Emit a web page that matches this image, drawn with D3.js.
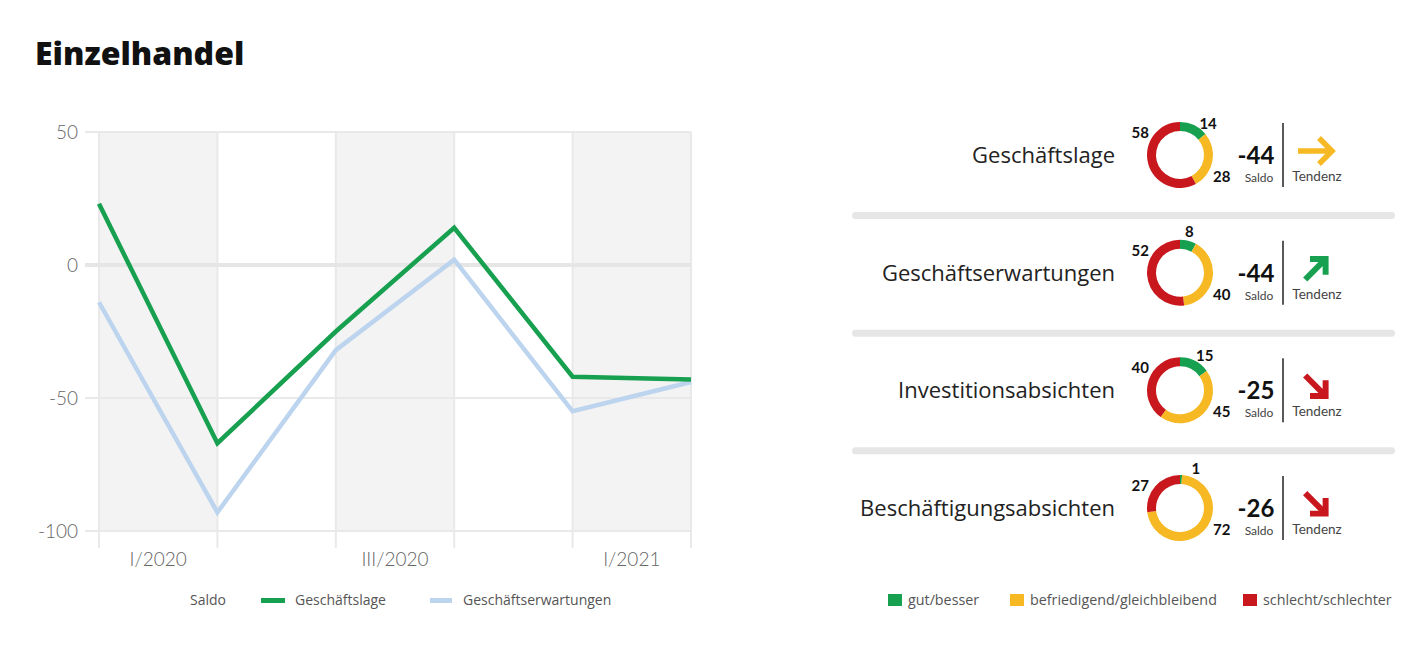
<!DOCTYPE html>
<html><head><meta charset="utf-8">
<script src="https://cdn.jsdelivr.net/npm/d3@7"></script>
<style>
html,body{margin:0;padding:0;background:#fff;}
svg{display:block;font-family:Lato,"Open Sans",sans-serif;}
</style></head>
<body>
<svg id="c" width="1424" height="662"></svg>
<script>
// ---------- data ----------
const bandLabels = ["I/2020","II/2020","III/2020","IV/2020","I/2021"];
const shownLabels = ["I/2020","III/2020","I/2021"];
const yTicks = [50, 0, -50, -100];
const geschaeftslage = [23, -67, -25, 14, -42, -43];
const geschaeftserwartungen = [-14, -93, -32, 2, -55, -44];
const rowNames = ["Geschäftslage","Geschäftserwartungen","Investitionsabsichten","Beschäftigungsabsichten"];
const gut = [14, 8, 15, 1];
const befriedigend = [28, 40, 45, 72];
const schlecht = [58, 52, 40, 27];
const saldo = [-44, -44, -25, -26];
const tendenz = ["gleich", "hoch", "runter", "runter"];
const legendRight = ["gut/besser","befriedigend/gleichbleibend","schlecht/schlechter"];

// ---------- styles ----------
const C = {green:"#17a04f", yellow:"#f6b823", red:"#c8181e", blue:"#bcd4ee", grey:"#f3f3f3", grid:"#e9e9e9", text:"#555"};
const OS = "'Open Sans', sans-serif";
const svg = d3.select("#c");

// title
svg.append("text").attr("x",35).attr("y",65).attr("font-size",32).attr("font-weight",800)
  .attr("font-family",OS).attr("fill","#111").text("Einzelhandel");

// ---------- line chart ----------
const x = d3.scaleLinear().domain([0, geschaeftslage.length-1]).range([99, 691]);
const y = d3.scaleLinear().domain([-100, 50]).range([531, 132]);
const g = svg.append("g");

bandLabels.forEach((b,i)=>{
  if(i%2===0) g.append("rect").attr("x",x(i)).attr("y",y(50)).attr("width",x(i+1)-x(i))
    .attr("height",y(-100)-y(50)).attr("fill",C.grey);
});
d3.range(geschaeftslage.length).forEach(i=>{
  g.append("line").attr("x1",x(i)).attr("x2",x(i)).attr("y1",y(50)).attr("y2",548)
   .attr("stroke",C.grid).attr("stroke-width",2);
});
yTicks.forEach(t=>{
  g.append("line").attr("x1",85).attr("x2",x(5)).attr("y1",y(t)).attr("y2",y(t))
   .attr("stroke", t===0? "#e6e6e6":C.grid).attr("stroke-width", t===0?4:2);
  g.append("text").attr("x",78).attr("y",y(t)+7).attr("text-anchor","end")
   .attr("font-size",19).attr("font-weight",300).attr("fill","#666").text(t);
});
bandLabels.forEach((b,i)=>{
  if(shownLabels.includes(b)) g.append("text").attr("x",(x(i)+x(i+1))/2).attr("y",566)
    .attr("text-anchor","middle").attr("font-size",19).attr("font-weight",300).attr("fill","#666").text(b);
});
const line = d3.line().x((d,i)=>x(i)).y(d=>y(d));
g.append("path").datum(geschaeftserwartungen).attr("d",line).attr("fill","none")
  .attr("stroke",C.blue).attr("stroke-width",4.5);
g.append("path").datum(geschaeftslage).attr("d",line).attr("fill","none")
  .attr("stroke",C.green).attr("stroke-width",4.5);

// legend left
const ll = svg.append("g").attr("font-size",14).attr("fill",C.text).attr("font-family",OS);
ll.append("text").attr("x",190).attr("y",605).text("Saldo");
ll.append("rect").attr("x",261).attr("y",598).attr("width",24).attr("height",5).attr("fill",C.green);
ll.append("text").attr("x",295).attr("y",605).text("Geschäftslage");
ll.append("rect").attr("x",430).attr("y",598).attr("width",22).attr("height",5).attr("fill",C.blue);
ll.append("text").attr("x",463).attr("y",605).text("Geschäftserwartungen");

// ---------- right panel ----------
const rowY = d3.scaleLinear().domain([0,3]).range([155, 508]);
const cx = 1180, rOut = 33, rIn = 24;
const pie = d3.pie().sort(null).value(d=>d);
const arc = d3.arc().innerRadius(rIn).outerRadius(rOut);
const greenLabelAngle = [42, 13, 36, 22];

function arrow(gg, kind){
  const col = kind==="gleich"?C.yellow: kind==="hoch"?C.green:C.red;
  const rot = kind==="gleich"?0: kind==="hoch"?-45:45;
  const sc = kind==="gleich"?1:0.85;
  const sw = kind==="gleich"?5.5:7;
  const a = gg.append("g").attr("transform",`rotate(${rot}) scale(${sc})`);
  a.append("path").attr("d","M-18,0 L15,0").attr("stroke",col).attr("stroke-width",sw).attr("fill","none");
  a.append("path").attr("d","M3,-13 L16,0 L3,13").attr("stroke",col).attr("stroke-width",sw)
   .attr("fill","none").attr("stroke-linejoin","miter");
}

rowNames.forEach((name,i)=>{
  const cy = rowY(i);
  const r = svg.append("g");
  r.append("text").attr("x",1115).attr("y",cy+8).attr("text-anchor","end").attr("font-size",22)
   .attr("font-family",OS).attr("fill","#222").text(name);
  const dg = r.append("g").attr("transform",`translate(${cx},${cy})`);
  const vals = [gut[i], befriedigend[i], schlecht[i]];
  dg.selectAll("path").data(pie(vals)).join("path").attr("d",arc)
    .attr("fill",(d,j)=>[C.green,C.yellow,C.red][j]);
  const ang = greenLabelAngle[i]*Math.PI/180;
  dg.append("text").attr("x",42*Math.sin(ang)).attr("y",-42*Math.cos(ang)+5).attr("text-anchor","middle")
    .attr("font-size",15).attr("font-weight",700).attr("fill","#111").text(gut[i]);
  dg.append("text").attr("x",-31).attr("y",-17).attr("text-anchor","end")
    .attr("font-size",15).attr("font-weight",700).attr("fill","#111").text(schlecht[i]);
  dg.append("text").attr("x",33).attr("y",27).attr("text-anchor","start")
    .attr("font-size",15).attr("font-weight",700).attr("fill","#111").text(befriedigend[i]);
  r.append("text").attr("x",1256).attr("y",cy+9).attr("text-anchor","middle").attr("font-size",24)
   .attr("font-weight",700).attr("fill","#111").text(saldo[i]);
  r.append("text").attr("x",1259).attr("y",cy+27).attr("text-anchor","middle").attr("font-size",12)
   .attr("fill","#444").text("Saldo");
  r.append("line").attr("x1",1283).attr("x2",1283).attr("y1",cy-32).attr("y2",cy+32)
   .attr("stroke","#222").attr("stroke-width",1.5);
  r.append("text").attr("x",1317).attr("y",cy+26).attr("text-anchor","middle").attr("font-size",13.5)
   .attr("fill","#444").text("Tendenz");
  arrow(r.append("g").attr("transform",`translate(1316,${cy-4})`), tendenz[i]);
  if(i<rowNames.length-1){
    r.append("rect").attr("x",852).attr("y",cy+57).attr("width",543).attr("height",7).attr("rx",3.5)
     .attr("fill","#e6e6e6");
  }
});

// legend right
const lr = svg.append("g").attr("font-size",14.3).attr("fill",C.text).attr("font-family",OS);
const lx = [888, 1010, 1243];
legendRight.forEach((t,j)=>{
  lr.append("rect").attr("x",lx[j]).attr("y",594).attr("width",14).attr("height",12)
    .attr("fill",[C.green,C.yellow,C.red][j]);
  lr.append("text").attr("x",lx[j]+20).attr("y",605).text(t);
});
</script>
</body></html>
